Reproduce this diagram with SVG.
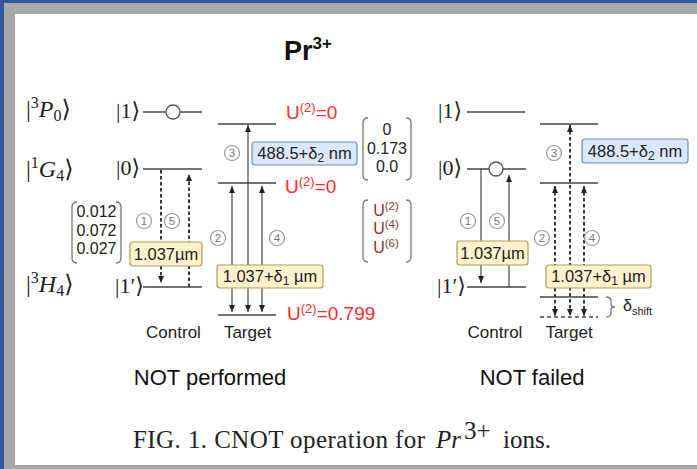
<svg xmlns="http://www.w3.org/2000/svg" width="697" height="469" viewBox="0 0 697 469">
<style>
.lvl{stroke:#444;stroke-width:1.3;fill:none}
.dsh{stroke:#444;stroke-width:1.3;fill:none;stroke-dasharray:4 3}
.sl{stroke:#555;stroke-width:1.3;fill:none}
.dt{stroke:#222;stroke-width:1.8;fill:none;stroke-dasharray:3.5 2.5}
.end{marker-end:url(#ah)}
.both{marker-start:url(#ah);marker-end:url(#ah)}
.cn circle{fill:#fff;stroke:#9a9a9a;stroke-width:1.2}
.cn text{font-family:"Liberation Sans",Arial,sans-serif;font-size:11.5px;fill:#777;text-anchor:middle}
.yb{fill:#fff2cc;stroke:#b39b54;stroke-width:1.2}
.bb{fill:#dae8fc;stroke:#6c8ebf;stroke-width:1.2}
.bt{font-family:"Liberation Sans",Arial,sans-serif;font-size:16.5px;fill:#222;text-anchor:middle}
.br{stroke:#777;fill:none;stroke-width:1.3}
.mt{font-family:"Liberation Sans",Arial,sans-serif;font-size:16px;fill:#222;text-anchor:middle}
.um{font-family:"Liberation Sans",Arial,sans-serif;font-size:16px;fill:#8e3434;text-anchor:middle}
.red{font-family:"Liberation Sans",Arial,sans-serif;font-size:19px;fill:#ff2b2b}
.ket{font-family:"Liberation Serif","DejaVu Serif","DejaVu Sans",serif;font-size:22px;fill:#222}
.term{font-family:"Liberation Serif","DejaVu Serif","DejaVu Sans",serif;font-size:24px;fill:#222}
.lab{font-family:"Liberation Sans",Arial,sans-serif;font-size:17px;fill:#222;text-anchor:middle}
.big{font-family:"Liberation Sans",Arial,sans-serif;font-size:22px;fill:#111;text-anchor:middle}
.cap{font-family:"Liberation Serif","Times New Roman",serif;font-size:25px;fill:#222}
.circ{fill:#fff;stroke:#555;stroke-width:1.3}
</style>
<defs>
<marker id="ah" viewBox="0 0 7 6" refX="7" refY="3" markerWidth="7" markerHeight="6" markerUnits="userSpaceOnUse" orient="auto-start-reverse"><path d="M0,0 L7,3 L0,6 z" fill="#222"/></marker>
</defs>

<g id="frame">
<rect x="0" y="0" width="697" height="469" fill="#a8a8a8"/>
<rect x="0" y="0" width="697" height="3" fill="#2e5a9c"/>
<rect x="0" y="0" width="4" height="469" fill="#2e5a9c"/>
<rect x="15" y="14" width="682" height="451" fill="#fff"/>
</g>

<g id="title"><text x="284" y="60" font-family="'Liberation Sans',Arial,sans-serif" font-weight="bold" font-size="27" fill="#111">Pr<tspan font-size="17" dy="-11">3+</tspan></text></g>

<g id="connectors">
<line class="dt end" x1="161" y1="170" x2="161" y2="283"/>
<line class="dt end" x1="189" y1="287" x2="189" y2="174"/>
<line class="sl both" x1="232" y1="186" x2="232" y2="312"/>
<line class="sl both" x1="248" y1="125" x2="248" y2="312"/>
<line class="sl both" x1="262" y1="186" x2="262" y2="312"/>
<line class="sl end" x1="481" y1="169" x2="481" y2="283"/>
<line class="sl end" x1="509" y1="287" x2="509" y2="175"/>
<line class="dt both" x1="555" y1="186" x2="555" y2="316"/>
<line class="dt both" x1="570" y1="125" x2="570" y2="316"/>
<line class="dt both" x1="584" y1="186" x2="584" y2="316"/>
</g>

<g id="left-terms">
<text class="term" x="26" y="117">|<tspan font-size="16" dy="-9">3</tspan><tspan font-style="italic" dy="9">P</tspan><tspan font-size="16" dy="4">0</tspan><tspan dy="-4">⟩</tspan></text>
<text class="term" x="26" y="177">|<tspan font-size="16" dy="-9">1</tspan><tspan font-style="italic" dy="9">G</tspan><tspan font-size="16" dy="4">4</tspan><tspan dy="-4">⟩</tspan></text>
<text class="term" x="26" y="292">|<tspan font-size="16" dy="-9">3</tspan><tspan font-style="italic" dy="9">H</tspan><tspan font-size="16" dy="4">4</tspan><tspan dy="-4">⟩</tspan></text>
</g>

<g id="left-control">
<text class="ket" x="116" y="118">|1⟩</text>
<line class="lvl" x1="143" y1="112" x2="202" y2="112"/>
<circle class="circ" cx="173" cy="112" r="7"/>
<text class="ket" x="116" y="175">|0⟩</text>
<line class="lvl" x1="143" y1="169" x2="202" y2="169"/>
<text class="ket" x="115" y="293">|1′⟩</text>
<line class="lvl" x1="143" y1="287" x2="202" y2="287"/>
<text class="lab" x="173.5" y="338">Control</text>
</g>

<g id="left-target">
<line class="lvl" x1="218" y1="124" x2="276" y2="124"/>
<line class="lvl" x1="218" y1="183" x2="276" y2="183"/>
<line class="lvl" x1="218" y1="315" x2="276" y2="315"/>
<text class="lab" x="247.5" y="338">Target</text>
<text class="red" x="286" y="119">U<tspan font-size="13" dy="-7">(2)</tspan><tspan dy="7">=0</tspan></text>
<text class="red" x="285" y="193">U<tspan font-size="13" dy="-7">(2)</tspan><tspan dy="7">=0</tspan></text>
<text class="red" x="287" y="320">U<tspan font-size="13" dy="-7">(2)</tspan><tspan dy="7">=0.799</tspan></text>
</g>

<g id="left-matrix">
<path class="br" d="M77 202 Q72 202 72 207 L72 258 Q72 263 77 263"/>
<path class="br" d="M116 202 Q121 202 121 207 L121 258 Q121 263 116 263"/>
<text class="mt" x="96.5" y="217">0.012</text>
<text class="mt" x="96.5" y="236">0.072</text>
<text class="mt" x="96.5" y="254">0.027</text>
</g>

<g id="mid-matrix">
<path class="br" d="M368 118 Q363 118 363 123 L363 175 Q363 180 368 180"/>
<path class="br" d="M406 118 Q411 118 411 123 L411 175 Q411 180 406 180"/>
<text class="mt" x="387" y="135">0</text>
<text class="mt" x="387" y="154">0.173</text>
<text class="mt" x="387" y="172">0.0</text>
</g>

<g id="u-matrix">
<path class="br" d="M368 200 Q363 200 363 205 L363 257 Q363 262 368 262"/>
<path class="br" d="M406 200 Q411 200 411 205 L411 257 Q411 262 406 262"/>
<text class="um" x="386" y="216">U<tspan font-size="11.5" dy="-6">(2)</tspan></text>
<text class="um" x="386" y="234">U<tspan font-size="11.5" dy="-6">(4)</tspan></text>
<text class="um" x="386" y="253">U<tspan font-size="11.5" dy="-6">(6)</tspan></text>
</g>

<g id="left-boxes">
<rect class="yb" x="130" y="242" width="72" height="24" rx="3"/>
<text class="bt" x="166" y="259.5">1.037µm</text>
<rect class="yb" x="217" y="265" width="106" height="23" rx="3"/>
<text class="bt" x="270" y="282">1.037+δ<tspan font-size="12" dy="3">1</tspan><tspan dy="-3"> µm</tspan></text>
<rect class="bb" x="252" y="142" width="105" height="23" rx="3"/>
<text class="bt" x="304.5" y="159">488.5+δ<tspan font-size="12" dy="3">2</tspan><tspan dy="-3"> nm</tspan></text>
</g>

<g id="left-steps" class="cn">
<circle cx="144" cy="221" r="7.5"/><text x="144" y="225">1</text>
<circle cx="172" cy="221" r="7.5"/><text x="172" y="225">5</text>
<circle cx="218" cy="238" r="7.5"/><text x="218" y="242">2</text>
<circle cx="277" cy="238" r="7.5"/><text x="277" y="242">4</text>
<circle cx="232" cy="153" r="7.5"/><text x="232" y="157">3</text>
</g>

<g id="right-control">
<text class="ket" x="438" y="118">|1⟩</text>
<line class="lvl" x1="467" y1="112" x2="525" y2="112"/>
<text class="ket" x="438" y="175">|0⟩</text>
<line class="lvl" x1="467" y1="169" x2="526" y2="169"/>
<circle class="circ" cx="496" cy="169" r="7"/>
<text class="ket" x="437" y="293">|1′⟩</text>
<line class="lvl" x1="467" y1="287" x2="526" y2="287"/>
<text class="lab" x="495" y="338">Control</text>
</g>

<g id="right-target">
<line class="lvl" x1="540" y1="124" x2="598" y2="124"/>
<line class="lvl" x1="540" y1="183" x2="598" y2="183"/>
<line class="lvl" x1="540" y1="297" x2="598" y2="297"/>
<line class="dsh" x1="540" y1="317" x2="598" y2="317"/>
<path class="br" d="M606 297 Q611 297 611 301 L611 304 Q611 307 615 307 Q611 307 611 310 L611 313 Q611 317 606 317"/>
<text x="623" y="311" font-family="'Liberation Sans',Arial,sans-serif" font-size="16" fill="#222">δ<tspan font-size="11" dy="4">shift</tspan></text>
<text class="lab" x="569" y="338">Target</text>
</g>

<g id="right-boxes">
<rect class="yb" x="457" y="241" width="71" height="24" rx="3"/>
<text class="bt" x="492.5" y="258.5">1.037µm</text>
<rect class="yb" x="546" y="265" width="105" height="23" rx="3"/>
<text class="bt" x="598.5" y="282">1.037+δ<tspan font-size="12" dy="3">1</tspan><tspan dy="-3"> µm</tspan></text>
<rect class="bb" x="582" y="139" width="106" height="24" rx="3"/>
<text class="bt" x="635" y="156.5">488.5+δ<tspan font-size="12" dy="3">2</tspan><tspan dy="-3"> nm</tspan></text>
</g>

<g id="right-steps" class="cn">
<circle cx="468" cy="221" r="7.5"/><text x="468" y="225">1</text>
<circle cx="497" cy="221" r="7.5"/><text x="497" y="225">5</text>
<circle cx="542" cy="238" r="7.5"/><text x="542" y="242">2</text>
<circle cx="592" cy="238" r="7.5"/><text x="592" y="242">4</text>
<circle cx="554" cy="153" r="7.5"/><text x="554" y="157">3</text>
</g>

<g id="captions">
<text class="big" x="210" y="385">NOT performed</text>
<text class="big" x="532" y="385">NOT failed</text>
<text class="cap" x="133" y="448" textLength="292" lengthAdjust="spacing">FIG. 1. CNOT operation for</text>
<text class="cap" x="436" y="448" font-style="italic">Pr</text>
<text class="cap" x="464" y="439" font-size="16">3+</text>
<text class="cap" x="503" y="448">ions.</text>
</g>
</svg>
